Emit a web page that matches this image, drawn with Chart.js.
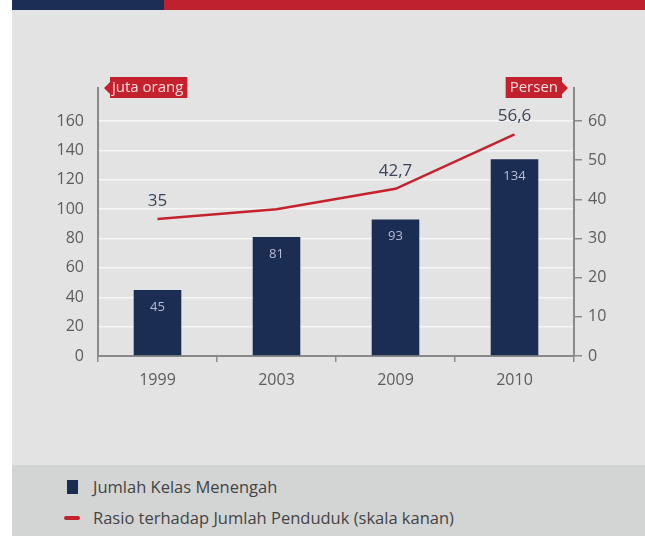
<!DOCTYPE html>
<html>
<head>
<meta charset="utf-8">
<script src="https://cdn.jsdelivr.net/npm/chart.js@4.4.1/dist/chart.umd.min.js"></script>
<style>
  body { margin: 0; background: #fff; font-family: "Open Sans", sans-serif; }
  #wrap { position: absolute; left: 12px; top: 0; width: 633px; height: 536px; background: #e3e3e3; overflow: hidden; }
  #bar-navy { position: absolute; left: 0; top: 0; width: 152px; height: 10px; background: #1c2e55; }
  #bar-red { position: absolute; left: 152px; top: 0; right: 0; height: 10px; background: #c0212f; }
  #box { position: absolute; left: 0; top: 10px; width: 633px; height: 455px; }
  #legend { position: absolute; left: 0; top: 465px; width: 633px; height: 71px; background: #d3d4d4; }
  .item { position: absolute; left: 52px; height: 20px; line-height: 20px; font-size: 16.5px; color: #444; }
  .item span.mk { position: absolute; left: 0; }
  .item span.tx { position: absolute; left: 29px; white-space: nowrap; }
</style>
</head>
<body>
<div id="wrap">
  <div id="bar-navy"></div>
  <div id="bar-red"></div>
  <div id="box"><canvas id="chart" width="633" height="455"></canvas></div>
  <div id="legend"></div>
</div>
<script>
// data
var years = ['1999', '2003', '2009', '2010'];
var kelasMenengah = [45, 81, 93, 134];        // juta orang
var rasioPenduduk = [35, 37.5, 42.7, 56.6];   // persen
var rasioLabelShown = [true, false, true, true];
var leftTicksMax = 160;
var rightTicksMax = 60;
var leftUnit = 'juta orang';
var rightUnit = 'Persen';
var seriesNames = ['Jumlah Kelas Menengah', 'Rasio terhadap Jumlah Penduduk (skala kanan)'];

var navy = '#1b2d52';
var red = '#c4232e';
var axisGray = '#8a8a8a';

function fmt(v) {
  return String(v).replace('.', ',');
}

// label boxes, bar values and line values
var labelPlugin = {
  id: 'labels',
  afterDatasetsDraw: function(chart) {
    var ctx = chart.ctx;
    var area = chart.chartArea;

    var bars = chart.getDatasetMeta(0).data;
    ctx.save();
    ctx.font = '13px "Open Sans"';
    ctx.fillStyle = '#b9bdd8';
    ctx.textAlign = 'center';
    ctx.textBaseline = 'middle';
    bars.forEach(function(b, i) {
      ctx.fillText(kelasMenengah[i], b.x, b.y + 17);
    });

    var pts = chart.getDatasetMeta(1).data;
    ctx.font = '17px "Open Sans"';
    ctx.fillStyle = '#3b4459';
    pts.forEach(function(p, i) {
      if (rasioLabelShown[i]) ctx.fillText(fmt(rasioPenduduk[i]), p.x, p.y - 18);
    });

    // unit tags at the axis tops
    ctx.font = '15px "Open Sans"';
    ctx.textBaseline = 'middle';
    var top = area.top;
    var lx = chart.scales.y.right;
    var lw = ctx.measureText(leftUnit).width + 6;
    ctx.fillStyle = '#c4212f';
    ctx.beginPath();
    ctx.moveTo(lx + 6, top);
    ctx.lineTo(lx + 12, top - 6);
    ctx.lineTo(lx + 12, top - 11);
    ctx.lineTo(lx + 12 + lw, top - 11);
    ctx.lineTo(lx + 12 + lw, top + 10);
    ctx.lineTo(lx + 12, top + 10);
    ctx.lineTo(lx + 12, top + 6);
    ctx.closePath();
    ctx.fill();
    ctx.fillStyle = '#f7dede';
    ctx.textAlign = 'left';
    ctx.fillText(leftUnit, lx + 14, top);

    var rx = chart.scales.y1.left;
    var rw = ctx.measureText(rightUnit).width + 8;
    ctx.fillStyle = '#c4212f';
    ctx.beginPath();
    ctx.moveTo(rx - 6, top);
    ctx.lineTo(rx - 12, top - 6);
    ctx.lineTo(rx - 12, top - 11);
    ctx.lineTo(rx - 12 - rw, top - 11);
    ctx.lineTo(rx - 12 - rw, top + 10);
    ctx.lineTo(rx - 12, top + 10);
    ctx.lineTo(rx - 12, top + 6);
    ctx.closePath();
    ctx.fill();
    ctx.fillStyle = '#f7dede';
    ctx.textAlign = 'center';
    ctx.fillText(rightUnit, rx - 12 - rw / 2, top);
    ctx.restore();
  }
};

var tickFont = { family: 'Open Sans', size: 16 };
var tickColor = '#5c5c5c';

var chart = new Chart(document.getElementById('chart'), {
  type: 'bar',
  data: {
    labels: years,
    datasets: [{
      label: seriesNames[0],
      data: kelasMenengah,
      backgroundColor: navy,
      barPercentage: 0.4,
      categoryPercentage: 1,
      yAxisID: 'y',
      order: 2
    }, {
      type: 'line',
      label: seriesNames[1],
      data: rasioPenduduk,
      borderColor: red,
      borderWidth: 2.5,
      pointRadius: 0,
      tension: 0,
      fill: false,
      yAxisID: 'y1',
      order: 1
    }]
  },
  options: {
    responsive: false,
    animation: false,
    layout: { padding: { top: 78, left: 0, right: 0, bottom: 0 } },
    plugins: {
      legend: { display: false },
      tooltip: { enabled: false }
    },
    scales: {
      x: {
        offset: true,
        grid: { drawOnChartArea: false, tickLength: 6, color: axisGray, lineWidth: 1.5 },
        border: { color: axisGray, width: 2 },
        ticks: { font: tickFont, color: tickColor, padding: 9 },
        afterFit: function(s) { s.height = 109; }
      },
      y: {
        position: 'left',
        min: 0,
        max: 182.5,
        ticks: { stepSize: 20, font: tickFont, color: tickColor, padding: 14 },
        afterBuildTicks: function(s) {
          s.ticks = s.ticks.filter(function(t) { return t.value <= leftTicksMax; });
        },
        grid: {
          drawTicks: false,
          lineWidth: 1.5,
          color: function(c) { return c.tick && c.tick.value === 0 ? 'rgba(0,0,0,0)' : '#f6f6f6'; }
        },
        border: { color: axisGray, width: 2 },
        afterFit: function(s) { s.width = 86; }
      },
      y1: {
        position: 'right',
        min: 0,
        max: 182.5 / leftTicksMax * rightTicksMax,
        ticks: { stepSize: 10, font: tickFont, color: tickColor, padding: 6 },
        afterBuildTicks: function(s) {
          s.ticks = s.ticks.filter(function(t) { return t.value <= rightTicksMax; });
        },
        grid: { drawOnChartArea: false, tickLength: 8, color: axisGray, lineWidth: 1.5 },
        border: { color: axisGray, width: 2 },
        afterFit: function(s) { s.width = 71; }
      }
    }
  },
  plugins: [labelPlugin]
});

// legend below the chart
var legend = document.getElementById('legend');
chart.data.datasets.forEach(function(ds, i) {
  var item = document.createElement('div');
  item.className = 'item';
  item.style.top = (i === 0 ? 12 : 43) + 'px';
  var mk = document.createElement('span');
  mk.className = 'mk';
  if (ds.type === 'line') {
    mk.style.cssText = 'left:0;top:8px;width:16px;height:4px;border-radius:2px;background:' + ds.borderColor;
  } else {
    mk.style.cssText = 'left:3px;top:3px;width:11px;height:14px;background:' + ds.backgroundColor;
  }
  var tx = document.createElement('span');
  tx.className = 'tx';
  tx.textContent = ds.label;
  item.appendChild(mk);
  item.appendChild(tx);
  legend.appendChild(item);
});
</script>
</body>
</html>
